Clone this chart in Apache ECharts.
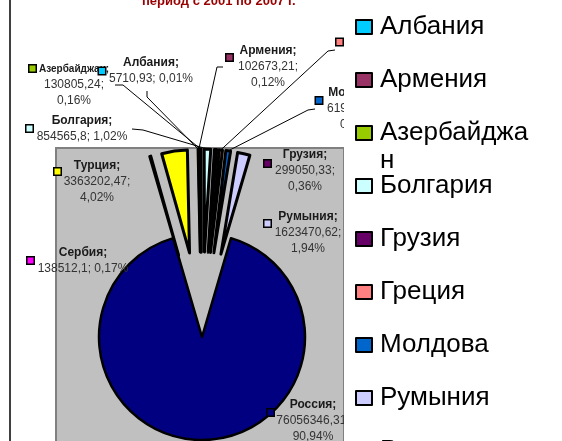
<!DOCTYPE html>
<html><head><meta charset="utf-8">
<script src="https://cdn.jsdelivr.net/npm/echarts@6/dist/echarts.min.js"></script>
<style>html,body{margin:0;padding:0;background:#fff}#c{width:562px;height:441px}</style>
</head><body><div id="c"></div>
<script>
// ---- data ----
const categories = ['Албания','Армения','Азербайджан','Болгария','Грузия','Греция','Молдова','Румыния','Россия','Сербия','Турция'];
const values = [5710.93, 102673.21, 130805.24, 854565.8, 299050.33, 439982.45, 619180.55, 1623470.62, 76056346.31, 138512.1, 3363202.47];
const colors = ['#00CCFF','#993366','#99CC00','#CCFFFF','#660066','#FF8080','#0066CC','#CCCCFF','#000080','#FF00FF','#FFFF00'];
const titleText = 'период с 2001 по 2007 г.';
const legendWrapped = {'Азербайджан': '\nАзербайджа\nн'};
const notExploded = ['Россия'];

// ---- layout (positions / styles only) ----
const FONT = 'Arial, "Liberation Sans", sans-serif';
// p: label block centre, key: legend-key centre, anchor/bend: label side of leader line
const labelLay = {
  'Албания':     {p:[151,70.5], key:[102,71],     wrap:false, anchor:[147,91],  bend:[147,97]},
  'Армения':     {p:[268,67],   key:[229.5,57.5], wrap:true,  anchor:[223,67],  bend:[217,67]},
  'Азербайджан': {p:[74,85],    key:[32.5,68.5],  wrap:true,  anchor:[115,85],  bend:[123,85], small:true},
  'Болгария':    {p:[82,128.5], key:[29.5,128.5], wrap:false, anchor:[132,129], bend:[143,130]},
  'Грузия':      {p:[305,171],  key:[267.5,163.5],wrap:true},
  'Греция':      {p:[376,53],   key:[339.5,42],   wrap:true,  anchor:[335,50],  bend:[328,51]},
  'Молдова':     {p:[357,109],  key:[319,100.5],  wrap:true,  anchor:[315,109], bend:[308,110]},
  'Румыния':     {p:[308,232.5],key:[267.5,223.5],wrap:true},
  'Россия':      {p:[313,421],  key:[270.5,412.5],wrap:true},
  'Сербия':      {p:[83,261],   key:[30.5,260.5], wrap:false},
  'Турция':      {p:[97,182],   key:[57.5,171.5], wrap:true}
};

const total = values.reduce((a,b)=>a+b,0);
const fmtNum = v => String(v).replace('.', ',');
const pct = v => (v/total*100).toFixed(2).replace('.', ',');

const chart = echarts.init(document.getElementById('c'), null, {renderer:'canvas'});

const CX = 202, CY = 337, R = 103, EXPLODE = 85, START = 91.2;

const legends = categories.map((name, i) => {
  const txt = legendWrapped[name] || name;
  const lines = txt.split('\n').length;
  const cy = 27 + 53 * i;
  return {
    data: [name], orient: 'vertical', left: 355, top: cy - lines * 28 / 2, z: 10,
    itemWidth: 16, itemHeight: 14, padding: 0, itemGap: 0, selectedMode: false,
    icon: 'rect',
    itemStyle: {borderColor: '#000', borderWidth: 2},
    formatter: n => legendWrapped[n] || n,
    textStyle: {fontSize: 26, color: '#000', fontFamily: FONT, lineHeight: 28, padding: [0,0,0,3]}
  };
});

const pieBase = {type: 'pie', center: [CX, CY], radius: [0, R], startAngle: START, clockwise: true,
  avoidLabelOverlap: false, minShowLabelAngle: 0, emphasis: {disabled: true}};

const option = {
  animation: false,
  title: {
    text: titleText, left: 142, top: -5, padding: 0,
    textStyle: {fontSize: 13, fontWeight: 'bold', color: '#990000', fontFamily: FONT}
  },
  legend: legends,
  graphic: [
    {type:'rect', z:0, shape:{x:56, y:148, width:288, height:300}, style:{fill:'#C0C0C0', stroke:'#808080', lineWidth:2}},
    {type:'line', z:0, shape:{x1:10, y1:0, x2:10, y2:441}, style:{stroke:'#000', lineWidth:1.5}},
    {type:'rect', z:4, shape:{x:344, y:0, width:218, height:441}, style:{fill:'#fff'}}
  ],
  series: [
    // slices
    Object.assign({}, pieBase, {
      z: 2,
      selectedMode: 'multiple', selectedOffset: EXPLODE,
      color: colors,
      itemStyle: {borderColor: '#000', borderWidth: 3},
      data: categories.map((n, i) => {
        const exploded = notExploded.indexOf(n) < 0;
        return {name: n, value: values[i], selected: exploded,
                itemStyle: exploded ? {} : {borderWidth: 2.5}};
      }),
      label: {show: false}, labelLine: {show: false}
    }),
    // data labels with leader lines
    Object.assign({}, pieBase, {
      z: 3, silent: true, legendHoverLink: false,
      itemStyle: {color: 'rgba(0,0,0,0)', borderWidth: 0},
      data: categories.map((n, i) => ({name: n, value: values[i], labelLine: {show: !!labelLay[n].anchor}})),
      label: {
        show: true, position: 'outside', fontFamily: FONT,
        formatter: p => {
          const L = labelLay[p.name];
          const nt = L.small ? 'ns' : 'n';
          const v = fmtNum(p.value), pc = pct(p.value);
          const l2 = L.wrap ? `{v|${v};}\n{v|${pc}%}` : `{v|${v}; ${pc}%}`;
          return `{${nt}|${p.name};}\n${l2}`;
        },
        rich: {
          n:  {fontSize: 12, fontWeight: 'bold', color: '#1a1a1a', fontFamily: FONT, lineHeight: 16, align: 'center'},
          ns: {fontSize: 10, fontWeight: 'bold', color: '#1a1a1a', fontFamily: FONT, lineHeight: 16, align: 'center'},
          v:  {fontSize: 12, color: '#333', fontFamily: FONT, lineHeight: 16, align: 'center'}
        }
      },
      labelLine: {show: true, lineStyle: {color: '#000', width: 1}, length: 10, length2: 8},
      labelLayout: p => {
        const n = categories[p.dataIndex];
        const L = labelLay[n];
        const out = {x: L.p[0], y: L.p[1], align: 'center', verticalAlign: 'middle'};
        if (L.anchor && p.labelLinePoints && p.labelLinePoints.length) {
          const a = p.labelLinePoints[0];
          const dx = a[0] - CX, dy = a[1] - CY, d = Math.sqrt(dx*dx + dy*dy) || 1;
          const tip = [CX + dx / d * (R + EXPLODE), CY + dy / d * (R + EXPLODE)];
          out.labelLinePoints = [tip, L.bend, L.anchor];
        }
        return out;
      }
    }),
    // legend keys beside labels
    Object.assign({}, pieBase, {
      z: 3, silent: true, legendHoverLink: false,
      itemStyle: {color: 'rgba(0,0,0,0)', borderWidth: 0},
      data: categories.map((n, i) => ({
        name: n, value: values[i],
        label: {rich: {m: {width: 6, height: 6, backgroundColor: colors[i], borderColor: '#000', borderWidth: 1.5, fontSize: 1}}}
      })),
      label: {show: true, formatter: '{m| }', rich: {m: {width: 6, height: 6, borderColor: '#000', borderWidth: 1.5, fontSize: 1}}},
      labelLine: {show: false},
      labelLayout: p => {
        const L = labelLay[categories[p.dataIndex]];
        return {x: L.key[0], y: L.key[1], align: 'center', verticalAlign: 'middle'};
      }
    })
  ]
};
chart.setOption(option);
</script>
</body></html>
